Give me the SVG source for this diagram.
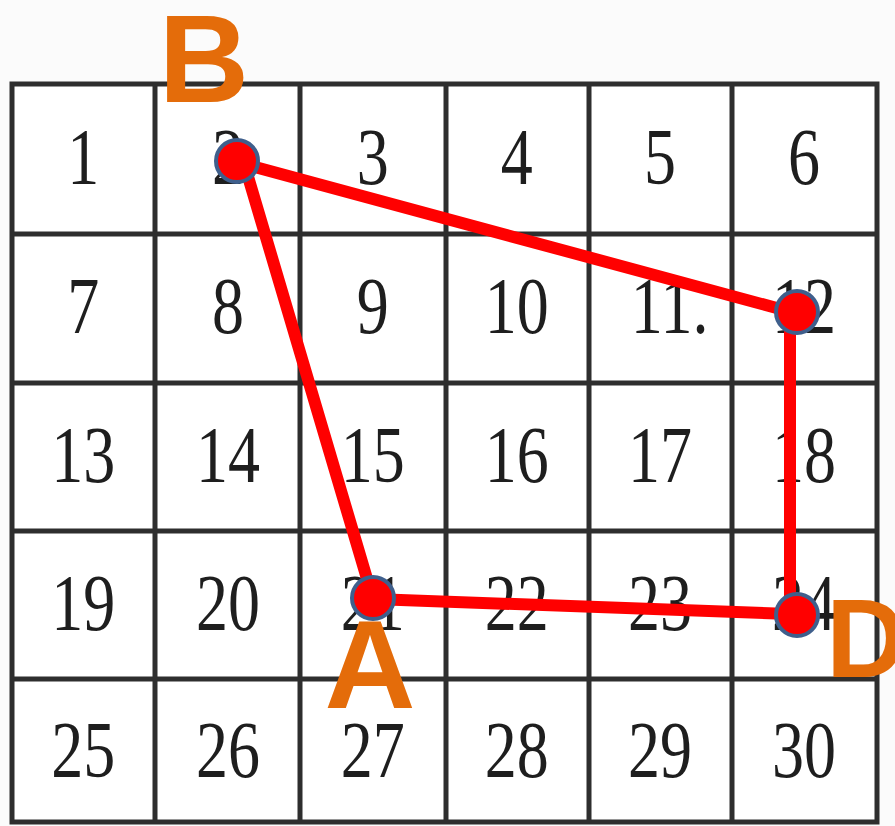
<svg xmlns="http://www.w3.org/2000/svg" width="895" height="826" viewBox="0 0 895 826">
<style>
.grid{fill:none;stroke:#2e2e2e;stroke-width:5}
.num{font-family:"Liberation Serif","Times New Roman",serif;font-size:80px;fill:#1e1e1e;text-anchor:middle}
.edge{stroke:#ff0000;stroke-width:12;stroke-linecap:round;fill:none}
.pt{fill:#ff0000;stroke:#3f5f8c;stroke-width:4}
.lbl{font-family:"Liberation Sans",Arial,sans-serif;font-weight:bold;fill:#e46c0a}
</style>
<rect x="0" y="0" width="895" height="826" fill="#fbfbfb"/>
<g id="grid">
<rect x="12" y="84" width="865" height="738" fill="#ffffff"/>
<path class="grid" d="M12 84H877V822H12Z M155 84V822 M300 84V822 M446 84V822 M589 84V822 M732 84V822 M12 234H877 M12 383H877 M12 531H877 M12 679H877"/>
</g>
<g id="numbers" transform="scale(0.8 1)">
<text class="num" x="104" y="184">1</text>
<text class="num" x="285" y="184">2</text>
<text class="num" x="466" y="184">3</text>
<text class="num" x="646" y="184">4</text>
<text class="num" x="825" y="184">5</text>
<text class="num" x="1005" y="184">6</text>
<text class="num" x="104" y="333">7</text>
<text class="num" x="285" y="333">8</text>
<text class="num" x="466" y="333">9</text>
<text class="num" x="646" y="333">10</text>
<text class="num" x="837" y="333">11.</text>
<text class="num" x="1005" y="333">12</text>
<text class="num" x="104" y="482">13</text>
<text class="num" x="285" y="482">14</text>
<text class="num" x="466" y="482">15</text>
<text class="num" x="646" y="482">16</text>
<text class="num" x="825" y="482">17</text>
<text class="num" x="1005" y="482">18</text>
<text class="num" x="104" y="630">19</text>
<text class="num" x="285" y="630">20</text>
<text class="num" x="466" y="630">21</text>
<text class="num" x="646" y="630">22</text>
<text class="num" x="825" y="630">23</text>
<text class="num" x="1005" y="630">24</text>
<text class="num" x="104" y="777">25</text>
<text class="num" x="285" y="777">26</text>
<text class="num" x="466" y="777">27</text>
<text class="num" x="646" y="777">28</text>
<text class="num" x="825" y="777">29</text>
<text class="num" x="1005" y="777">30</text>
</g>
<g id="connectors">
<line class="edge" x1="240" y1="163" x2="795" y2="313"/>
<line class="edge" x1="790" y1="313" x2="790" y2="614"/>
<line class="edge" x1="790" y1="614" x2="373" y2="599"/>
<line class="edge" x1="373" y1="599" x2="244" y2="163"/>
</g>
<g id="node-B">
<circle class="pt" cx="237" cy="161" r="21"/>
<text class="lbl" x="204" y="102" font-size="125" text-anchor="middle">B</text>
</g>
<g id="node-C">
<circle class="pt" cx="797" cy="312" r="21"/>
</g>
<g id="node-D">
<circle class="pt" cx="797" cy="615" r="21"/>
<text class="lbl" x="826" y="677" font-size="112">D</text>
</g>
<g id="node-A">
<circle class="pt" cx="373" cy="598" r="21"/>
<text class="lbl" x="370" y="708" font-size="126" text-anchor="middle">A</text>
</g>
</svg>
